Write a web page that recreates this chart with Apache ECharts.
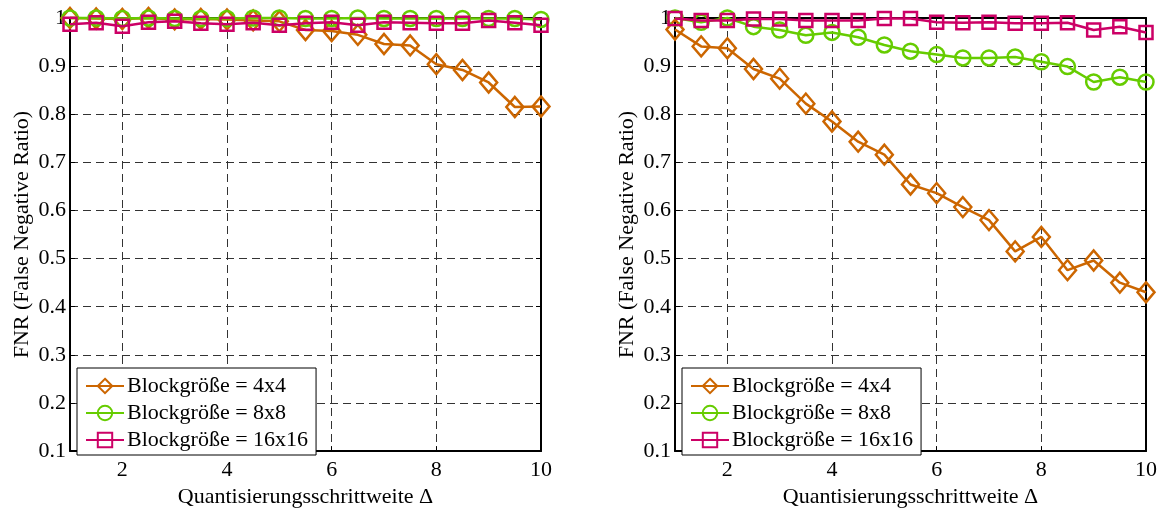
<!DOCTYPE html>
<html>
<head>
<meta charset="utf-8">
<script src="https://cdn.jsdelivr.net/npm/echarts@6/dist/echarts.min.js"></script>
<style>
html,body{margin:0;padding:0;background:#fff;}
#chart{width:1161px;height:513px;}
</style>
</head>
<body>
<div id="chart"></div>
<script>
// Quantisierungsschrittweite Δ
const xValues = [1, 1.5, 2, 2.5, 3, 3.5, 4, 4.5, 5, 5.5, 6, 6.5, 7, 7.5, 8, 8.5, 9, 9.5, 10];
const xTickValues = [2, 4, 6, 8, 10];
const seriesNames = ['Blockgröße = 4x4', 'Blockgröße = 8x8', 'Blockgröße = 16x16'];

// Left panel
const left4x4 = [1.0, 0.999, 0.998, 1.0, 0.997, 0.998, 0.997, 0.995, 0.993, 0.975, 0.973, 0.965, 0.946, 0.943, 0.904, 0.892, 0.866, 0.815, 0.816];
const left8x8 = [1.0, 1.0, 0.999, 1.0, 0.999, 0.999, 0.999, 1.0, 1.0, 0.999, 0.999, 1.0, 0.999, 0.999, 0.999, 0.999, 0.999, 0.999, 0.997];
const left16x16 = [0.987, 0.990, 0.983, 0.991, 0.993, 0.989, 0.987, 0.990, 0.985, 0.989, 0.991, 0.985, 0.991, 0.990, 0.989, 0.989, 0.995, 0.990, 0.985];

// Right panel
const right4x4 = [0.976, 0.941, 0.937, 0.894, 0.874, 0.822, 0.785, 0.743, 0.716, 0.654, 0.636, 0.607, 0.580, 0.515, 0.545, 0.476, 0.496, 0.450, 0.430];
const right8x8 = [1.0, 0.991, 1.0, 0.982, 0.975, 0.964, 0.970, 0.960, 0.944, 0.931, 0.924, 0.917, 0.917, 0.919, 0.909, 0.899, 0.867, 0.877, 0.867];
const right16x16 = [0.999, 0.995, 0.995, 0.998, 0.998, 0.995, 0.995, 0.995, 0.999, 0.999, 0.991, 0.990, 0.991, 0.989, 0.989, 0.990, 0.975, 0.982, 0.970];

const colors = ['#cc6600', '#66cc00', '#cc0066'];
const symbols = ['diamond', 'circle', 'rect'];
const symbolSizes = [[17, 20], 15, 13];
const FONT = 'Liberation Serif';

const chart = echarts.init(document.getElementById('chart'), null, {renderer: 'canvas'});

const grids = [
  {left: 70, top: 18, width: 471, height: 443},
  {left: 675, top: 18, width: 471, height: 443}
];

function mainX(gi) {
  return {
    type: 'value', gridIndex: gi, min: 1, max: 10, position: 'bottom',
    name: 'Quantisierungsschrittweite Δ', nameLocation: 'middle', nameGap: 30,
    nameTextStyle: {fontFamily: FONT, fontSize: 22, color: '#000'},
    axisLine: {show: true, onZero: false, lineStyle: {color: '#000', width: 2}},
    axisTick: {show: true, inside: true, length: 5, customValues: xTickValues, lineStyle: {color: '#000', width: 1}},
    axisLabel: {show: true, customValues: xTickValues, margin: 8, fontFamily: FONT, fontSize: 22, color: '#000'},
    splitLine: {show: true, lineStyle: {color: '#333', width: 1, type: [8, 5]}}
  };
}
function topX(gi) {
  return {
    type: 'value', gridIndex: gi, min: 1, max: 10, position: 'top',
    axisLine: {show: true, onZero: false, lineStyle: {color: '#000', width: 2}},
    axisTick: {show: true, inside: true, length: 5, customValues: xTickValues, lineStyle: {color: '#000', width: 1}},
    axisLabel: {show: false},
    splitLine: {show: false}
  };
}
function mainY(gi) {
  return {
    type: 'value', gridIndex: gi, min: 0.1, max: 1, interval: 0.1, position: 'left',
    name: 'FNR (False Negative Ratio)', nameLocation: 'middle', nameGap: 37,
    nameTextStyle: {fontFamily: FONT, fontSize: 22, color: '#000'},
    axisLine: {show: true, onZero: false, lineStyle: {color: '#000', width: 2}},
    axisTick: {show: true, inside: true, length: 5, lineStyle: {color: '#000', width: 1}},
    axisLabel: {show: true, margin: 4, fontFamily: FONT, fontSize: 22, color: '#000'},
    splitLine: {show: true, lineStyle: {color: '#333', width: 1, type: [8, 5]}}
  };
}
function rightY(gi) {
  return {
    type: 'value', gridIndex: gi, min: 0.1, max: 1, interval: 0.1, position: 'right',
    axisLine: {show: true, onZero: false, lineStyle: {color: '#000', width: 2}},
    axisTick: {show: true, inside: true, length: 5, lineStyle: {color: '#000', width: 1}},
    axisLabel: {show: false},
    splitLine: {show: false}
  };
}

function makeSeries(name, idx, values, gi) {
  return {
    type: 'line', name: name,
    xAxisIndex: gi * 2, yAxisIndex: gi * 2,
    data: xValues.map((x, i) => [x, values[i]]),
    symbol: symbols[idx], symbolSize: symbolSizes[idx],
    showAllSymbol: true, clip: false,
    lineStyle: {color: colors[idx], width: 2.5},
    itemStyle: {color: 'rgba(255,255,255,0)', borderColor: colors[idx], borderWidth: 2.5},
    emphasis: {disabled: true},
    animation: false, z: 3 + idx
  };
}

function makeLegend(left) {
  return {
    show: true, orient: 'vertical', left: left, top: 368,
    padding: [7, 8, 4, 8], itemGap: 5, itemWidth: 38, itemHeight: 18,
    backgroundColor: '#fff', borderColor: '#000', borderWidth: 1, borderRadius: 0,
    textStyle: {fontFamily: FONT, fontSize: 22, color: '#000', padding: [0, 0, 0, -2]},
    data: seriesNames, selectedMode: false, z: 10
  };
}

const option = {
  backgroundColor: '#fff',
  animation: false,
  grid: grids,
  xAxis: [mainX(0), topX(0), mainX(1), topX(1)],
  yAxis: [mainY(0), rightY(0), mainY(1), rightY(1)],
  legend: [makeLegend(77), makeLegend(682)],
  series: [
    makeSeries(seriesNames[0], 0, left4x4, 0),
    makeSeries(seriesNames[1], 1, left8x8, 0),
    makeSeries(seriesNames[2], 2, left16x16, 0),
    makeSeries(seriesNames[0], 0, right4x4, 1),
    makeSeries(seriesNames[1], 1, right8x8, 1),
    makeSeries(seriesNames[2], 2, right16x16, 1)
  ]
};
chart.setOption(option);
</script>
</body>
</html>
